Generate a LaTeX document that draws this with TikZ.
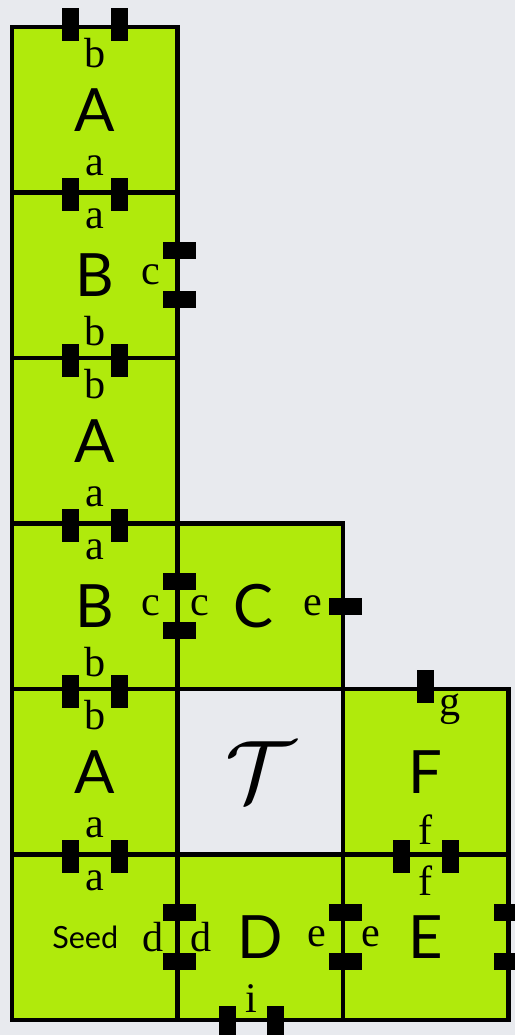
\documentclass[tikz,border=0pt]{standalone}
\usepackage{fontspec}
\setmainfont{Liberation Serif}
\newfontfamily\tilefont{Lato}
\usepackage{xcolor}
\definecolor{tileGreen}{HTML}{B0EA0C}
\definecolor{bgGray}{HTML}{E8EAEE}
\usepackage{tikz}

\begin{document}
\begin{tikzpicture}[
    tile/.style={draw, fill=tileGreen, line width=1.4pt, minimum size=1.655cm,
      inner sep=0pt, font=\tilefont\fontsize{17}{17}\selectfont},
    hole/.style={minimum size=1.655cm, inner sep=0pt},
    glue/.style={inner sep=0pt, font=\fontsize{12}{12}\selectfont}]
  \useasboundingbox (0,0) rectangle (5.15,10.35);
  % background
  \fill[bgGray] (0,0) rectangle (5.15,10.35);
  % the tiles (column, row from the bottom)
  \foreach \n/\x/\y/\t in {A1/0/5/A, B1/0/4/B, A2/0/3/A, B2/0/2/B, A3/0/1/A,
      S/0/0/{}, D/1/0/D, C/1/2/{}, E/2/0/E, F/2/1/F}
    \node[tile] (\n) at ({0.12+1.655*(\x+0.5)},{0.15+1.655*(\y+0.5)}) {\t};
  \node[hole] (T) at ({0.12+1.655*1.5},{0.15+1.655*1.5})
    {\fontsize{30}{30}\selectfont$\mathcal{T}$};
  \node[inner sep=0pt, font=\tilefont\fontsize{17}{17}\selectfont] (Cname)
    at ([xshift=-0.07cm]C.center) {C};
  \node[inner sep=0pt, font=\tilefont\fontsize{8.7}{9}\selectfont] (seed)
    at ([xshift=-0.095cm]S.center) {Seed};
  % glue labels
  \foreach \p/\dx/\dy/\l [count=\i] in {%
    A1.north/0/-0.29/b, A1.south/0/0.29/a,
    B1.north/0/-0.29/a, B1.east/-0.29/0/c, B1.south/0/0.29/b,
    A2.north/0/-0.29/b, A2.south/0/0.29/a,
    B2.north/0/-0.29/a, B2.east/-0.29/0/c, B2.south/0/0.29/b,
    C.west/0.25/0/c, C.east/-0.33/0/e,
    A3.north/0/-0.29/b, A3.south/0/0.29/a,
    F.north/0.24/-0.23/g, F.south/0/0.27/f,
    S.north/0/-0.29/a, S.east/-0.27/0/d,
    D.west/0.26/0/d, D.east/-0.29/0/e, D.south/-0.09/0.24/i,
    E.west/0.30/0/e, E.north/0/-0.29/f}
    \node[glue] (g\i) at ([xshift=\dx cm, yshift=\dy cm]\p) {\l};
  % glue bars across horizontal edges
  \foreach \p in {A1.north, A1.south, B1.south, A2.south, B2.south, A3.south, F.south}
    \foreach \dx in {-0.245, 0.245}
      \fill ([xshift=\dx cm]\p) +(-0.085,-0.165) rectangle +(0.085,0.165);
  \foreach \dx in {-0.325, 0.155}
    \fill ([xshift=\dx cm]D.south) +(-0.085,-0.165) rectangle +(0.085,0.165);
  \fill (F.north) +(-0.085,-0.165) rectangle +(0.085,0.165);
  % glue bars across vertical edges
  \foreach \p in {B1.east, B2.east, S.east, D.east, E.east}
    \foreach \dy in {-0.245, 0.245}
      \fill ([yshift=\dy cm]\p) +(-0.165,-0.085) rectangle +(0.165,0.085);
  \fill (C.east) +(-0.165,-0.085) rectangle +(0.165,0.085);
\end{tikzpicture}
\end{document}
